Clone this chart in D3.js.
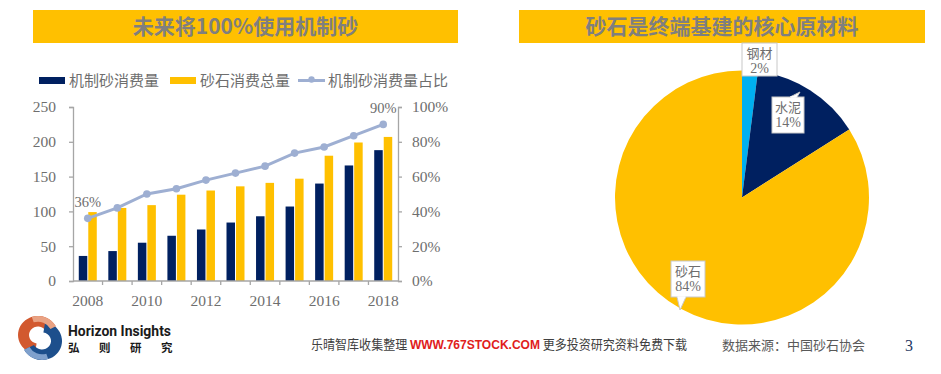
<!DOCTYPE html>
<html>
<head>
<meta charset="utf-8">
<script src="https://cdn.jsdelivr.net/npm/d3@7"></script>
<style>
  body { margin: 0; background: #fff; }
  svg { display: block; }
</style>
</head>
<body>
<script>
// data
var years = ["2008","2009","2010","2011","2012","2013","2014","2015","2016","2017","2018"];
var jzsValues = [36, 43, 55, 65, 74, 84, 93, 107, 140, 166, 188];
var sandTotal = [99, 105, 109, 124, 130, 136, 141, 147, 180, 199, 207];
var jzsShare = [0.36, 0.42, 0.50, 0.53, 0.58, 0.62, 0.66, 0.735, 0.77, 0.835, 0.90];
var leftTicks = [0, 50, 100, 150, 200, 250];
var rightTicks = [0, 0.2, 0.4, 0.6, 0.8, 1.0];
var xLabels = ["2008", "2010", "2012", "2014", "2016", "2018"];

var pieNames = ["钢材", "水泥", "砂石"];
var pieValues = [2, 14, 84];

var navy = "#002060", gold = "#ffc000", lineCol = "#9eafd2", sky = "#00b0f0";
var txt = "#6e6e6e";
var serif = "'Liberation Serif','Times New Roman',serif";
var cjk = "'Noto Sans CJK SC',sans-serif";

var svg = d3.select("body").append("svg").attr("width", 941).attr("height", 374);

// title banners
function banner(x, w, label) {
  svg.append("rect").attr("x", x).attr("y", 10).attr("width", w).attr("height", 33).attr("fill", gold);
  svg.append("text").attr("x", x + w / 2).attr("y", 34).attr("text-anchor", "middle")
    .attr("font-family", cjk).attr("font-weight", "bold").attr("font-size", 21)
    .attr("fill", "#7f7f7f").text(label);
}
banner(33, 425, "未来将100%使用机制砂");
banner(519, 406, "砂石是终端基建的核心原材料");

// ---------- left chart ----------
var margin = { top: 107, left: 73 }, width = 325, height = 174;
var g = svg.append("g").attr("transform", "translate(" + margin.left + "," + margin.top + ")");

var x = d3.scaleBand().domain(years).range([0, width]);
var yL = d3.scaleLinear().domain([0, 250]).range([height, 0]);
var yR = d3.scaleLinear().domain([0, 1]).range([height, 0]);
var barW = 8.5;

g.selectAll(".b1").data(years).enter().append("rect")
  .attr("x", function (d) { return x(d) + x.bandwidth() / 2 - barW - 0.5; })
  .attr("y", function (d, i) { return yL(jzsValues[i]); })
  .attr("width", barW)
  .attr("height", function (d, i) { return height - yL(jzsValues[i]); })
  .attr("fill", navy);

g.selectAll(".b2").data(years).enter().append("rect")
  .attr("x", function (d) { return x(d) + x.bandwidth() / 2 + 0.5; })
  .attr("y", function (d, i) { return yL(sandTotal[i]); })
  .attr("width", barW)
  .attr("height", function (d, i) { return height - yL(sandTotal[i]); })
  .attr("fill", gold);

// axes
var axisCol = "#a6a6a6";
var yAxisL = g.append("g").call(d3.axisLeft(yL).tickValues(leftTicks).tickSize(4).tickPadding(13));
var yAxisR = g.append("g").attr("transform", "translate(" + width + ",0)")
  .call(d3.axisRight(yR).tickValues(rightTicks).tickSize(4).tickPadding(10).tickFormat(d3.format(".0%")));
[yAxisL, yAxisR].forEach(function (a) {
  a.selectAll("path,line").attr("stroke", axisCol).attr("stroke-width", 1.3);
  a.selectAll("text").attr("font-family", serif).attr("font-size", 15.5).attr("fill", txt);
});

// x axis: baseline plus ticks at band edges
var xg = g.append("g").attr("transform", "translate(0," + height + ")");
xg.append("line").attr("x1", 0).attr("x2", width).attr("stroke", axisCol).attr("stroke-width", 1.3);
xg.selectAll("line.tk").data(years.slice(1)).enter().append("line")
  .attr("x1", function (d) { return x(d); }).attr("x2", function (d) { return x(d); })
  .attr("y1", 0).attr("y2", 4).attr("stroke", axisCol).attr("stroke-width", 1.3);
xg.selectAll("text").data(xLabels).enter().append("text")
  .attr("x", function (d) { return x(d) + x.bandwidth() / 2; })
  .attr("y", 25).attr("text-anchor", "middle")
  .attr("font-family", serif).attr("font-size", 15.5).attr("fill", txt).text(function (d) { return d; });

// share line
var line = d3.line()
  .x(function (d, i) { return x(years[i]) + x.bandwidth() / 2; })
  .y(function (d) { return yR(d); });
g.append("path").datum(jzsShare).attr("d", line).attr("fill", "none")
  .attr("stroke", lineCol).attr("stroke-width", 3);
g.selectAll(".pt").data(jzsShare).enter().append("circle")
  .attr("cx", function (d, i) { return x(years[i]) + x.bandwidth() / 2; })
  .attr("cy", function (d) { return yR(d); })
  .attr("r", 3.8).attr("fill", lineCol);

[0, jzsShare.length - 1].forEach(function (i) {
  g.append("text")
    .attr("x", x(years[i]) + x.bandwidth() / 2)
    .attr("y", yR(jzsShare[i]) - 11)
    .attr("text-anchor", "middle").attr("font-family", serif).attr("font-size", 14.5)
    .attr("fill", txt).text(d3.format(".0%")(jzsShare[i]));
});

// legend
var legend = [
  { label: "机制砂消费量", type: "rect", color: navy, x: 39 },
  { label: "砂石消费总量", type: "rect", color: gold, x: 170 },
  { label: "机制砂消费量占比", type: "line", color: lineCol, x: 298 }
];
legend.forEach(function (l) {
  if (l.type === "rect") {
    svg.append("rect").attr("x", l.x).attr("y", 77).attr("width", 26).attr("height", 7).attr("fill", l.color);
  } else {
    svg.append("line").attr("x1", l.x).attr("x2", l.x + 27).attr("y1", 80.5).attr("y2", 80.5)
      .attr("stroke", l.color).attr("stroke-width", 3);
    svg.append("circle").attr("cx", l.x + 13.5).attr("cy", 79.5).attr("r", 3.2).attr("fill", l.color);
  }
  svg.append("text").attr("x", l.x + 30).attr("y", 86).attr("font-family", cjk)
    .attr("font-size", 15).attr("fill", txt).text(l.label);
});

// ---------- pie ----------
var cx = 742, cy = 197.5, r = 127;
var pie = d3.pie().sort(null).value(function (d) { return d; });
var arc = d3.arc().innerRadius(0).outerRadius(r);
var pieCols = [sky, navy, gold];
var pg = svg.append("g").attr("transform", "translate(" + cx + "," + cy + ")");
pg.selectAll("path").data(pie(pieValues)).enter().append("path")
  .attr("d", arc).attr("fill", function (d, i) { return pieCols[i]; });

// callout labels (box positions relative to page)
var callouts = [
  { bx: 742, by: 43, bw: 35, bh: 33, tip: null },
  { bx: 772, by: 97, bw: 32, bh: 36, tip: [[790, 97], [800, 92], [797, 97]] },
  { bx: 671, by: 261, bw: 34, bh: 36, tip: [[677, 297], [680, 310], [686, 297]] }
];
callouts.forEach(function (c, i) {
  svg.append("rect").attr("x", c.bx).attr("y", c.by).attr("width", c.bw).attr("height", c.bh)
    .attr("fill", "#fff").attr("stroke", "#c8c8c8").attr("stroke-width", 1);
  if (c.tip) {
    svg.append("path").attr("d", d3.line()(c.tip)).attr("fill", "#fff").attr("stroke", "#c8c8c8");
    svg.append("line").attr("x1", c.tip[0][0] + 0.5).attr("x2", c.tip[2][0] - 0.5)
      .attr("y1", c.tip[0][1]).attr("y2", c.tip[2][1]).attr("stroke", "#fff").attr("stroke-width", 1.5);
  }
  svg.append("text").attr("x", c.bx + c.bw / 2).attr("y", c.by + 15).attr("text-anchor", "middle")
    .attr("font-family", cjk).attr("font-size", 13).attr("fill", txt).text(pieNames[i]);
  svg.append("text").attr("x", c.bx + c.bw / 2).attr("y", c.by + 30).attr("text-anchor", "middle")
    .attr("font-family", serif).attr("font-size", 14).attr("fill", txt).text(pieValues[i] + "%");
});

// ---------- footer ----------
var logo = svg.append("g").attr("transform", "translate(40,338)");
var topArc = d3.arc().innerRadius(9).outerRadius(20).startAngle(-Math.PI * 0.95).endAngle(Math.PI * 0.35);
var botArc = d3.arc().innerRadius(9).outerRadius(20).startAngle(Math.PI * 0.05).endAngle(Math.PI * 1.35);
logo.append("path").attr("d", topArc()).attr("fill", "#d2592f").attr("transform", "translate(-2,-3) scale(1,0.95)");
logo.append("path").attr("d", botArc()).attr("fill", "#1d4f8c").attr("transform", "translate(2,3) scale(1,0.95)");
logo.append("path").attr("d", d3.arc().innerRadius(14).outerRadius(20).startAngle(-Math.PI * 0.1).endAngle(Math.PI * 0.35)())
  .attr("fill", "#e9a283").attr("transform", "translate(-2,-3) scale(1,0.95)");
logo.append("path").attr("d", d3.arc().innerRadius(14).outerRadius(20).startAngle(Math.PI * 0.9).endAngle(Math.PI * 1.35)())
  .attr("fill", "#7fa0cc").attr("transform", "translate(2,3) scale(1,0.95)");

svg.append("text").attr("x", 68).attr("y", 336).attr("font-family", "'Liberation Sans Narrow','Roboto',sans-serif")
  .attr("font-weight", "bold").attr("font-size", 15).attr("fill", "#1a1a1a")
  .attr("textLength", 103).attr("lengthAdjust", "spacingAndGlyphs").text("Horizon Insights");
["弘", "则", "研", "究"].forEach(function (c, i) {
  svg.append("text").attr("x", 68 + i * 31).attr("y", 352).attr("font-family", cjk)
    .attr("font-weight", "bold").attr("font-size", 11.5).attr("fill", "#1a1a1a").text(c);
});

var ft = svg.append("text").attr("x", 311).attr("y", 349).attr("font-family", cjk).attr("font-size", 13)
  .attr("textLength", 376).attr("lengthAdjust", "spacingAndGlyphs");
ft.append("tspan").attr("fill", "#404040").text("乐晴智库收集整理 ");
ft.append("tspan").attr("fill", "#e0201b").attr("font-weight", "bold").attr("font-family", "'Liberation Sans',Arial,sans-serif")
  .text("WWW.767STOCK.COM");
ft.append("tspan").attr("fill", "#404040").text(" 更多投资研究资料免费下载");

svg.append("text").attr("x", 722).attr("y", 350).attr("font-family", cjk).attr("font-size", 13)
  .attr("fill", "#595959").text("数据来源：中国砂石协会");
svg.append("text").attr("x", 905).attr("y", 351).attr("font-family", serif).attr("font-size", 16)
  .attr("fill", "#1f3864").text("3");
</script>
</body>
</html>
